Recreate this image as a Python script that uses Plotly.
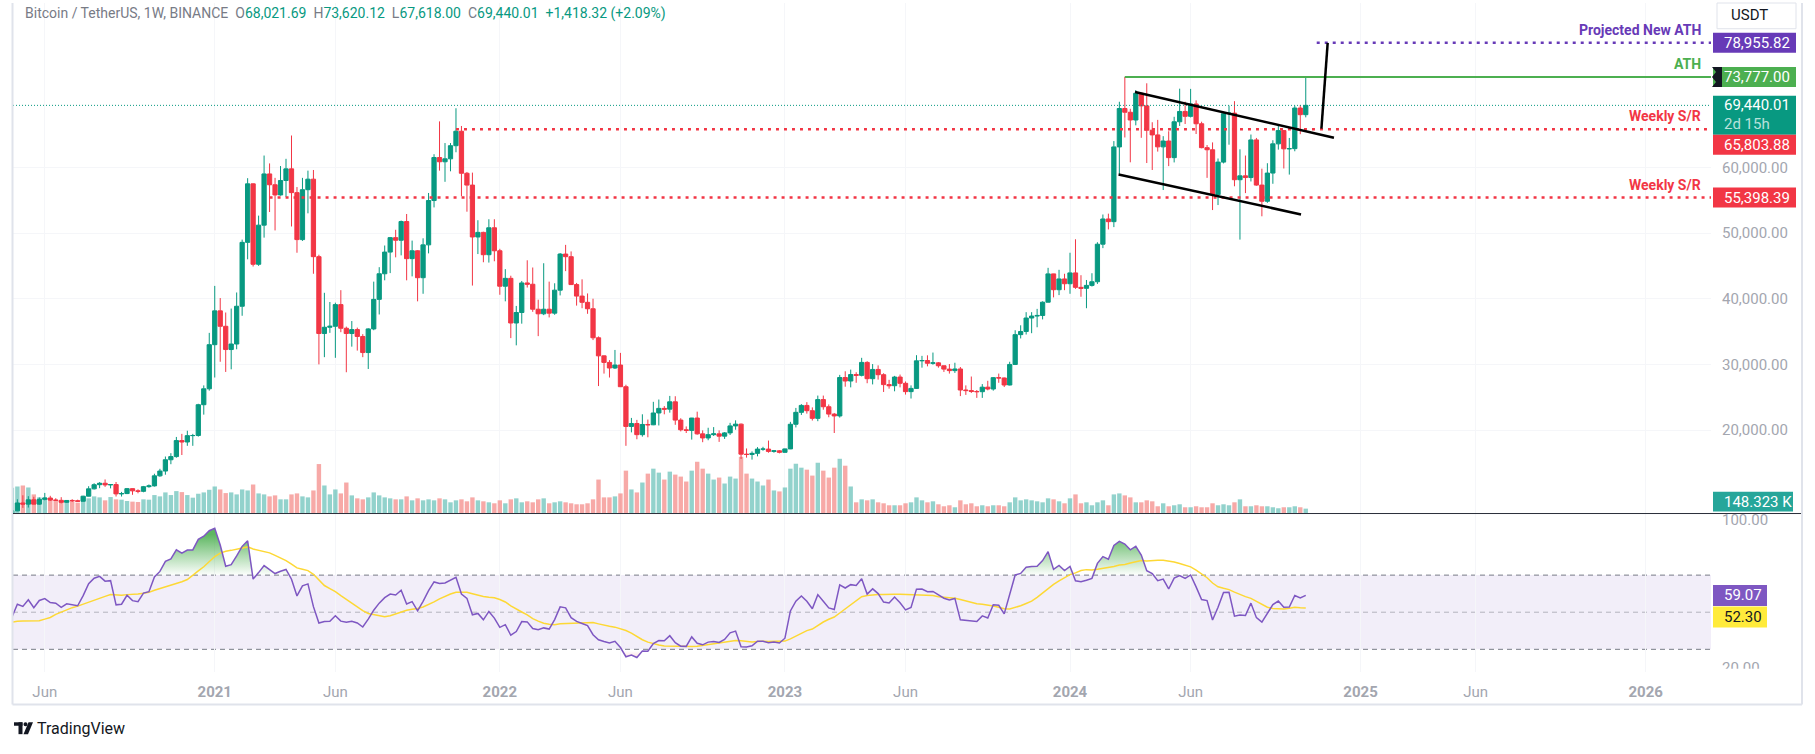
import numpy as np
import pandas as pd
import plotly.graph_objects as go

# ---------------------------------------------------------------- data
first_week = "2020-04-20"          # weekly bars (Monday open)
first_open = 7120.0

closes_2020 = [7700, 8900, 8720, 9380, 8720, 9450, 9650, 9340, 9300, 9000, 9280, 9230, 9160, 9930, 11050,
               11680, 11900, 11650, 11700, 10280, 10330, 11080, 10740, 10670, 11380, 11500, 13030, 13760,
               15480, 15960, 18400, 18180, 19150, 19170, 23860, 26280, 33000]
highs_2020 = [7770, 9460, 10070, 9930, 9840, 9740, 10430, 9990, 9620, 9780, 9320, 9470, 9400, 9990, 11450,
              11900, 12080, 12480, 11750, 12090, 10580, 11180, 11100, 10980, 11490, 11720, 13350, 14100,
              15970, 16480, 18950, 19420, 19900, 19420, 24000, 26800, 34800]
lows_2020 = [6750, 7640, 8150, 8200, 8700, 8630, 9300, 9200, 9210, 8830, 8900, 9050, 9060, 9150, 9900,
             10950, 11150, 11350, 11120, 9880, 9880, 10250, 10140, 10370, 10530, 11220, 11400, 12890,
             13200, 14800, 15790, 16200, 17600, 17600, 19000, 22350, 26000]
volumes_2020 = [780, 820, 850, 790, 580, 490, 490, 460, 380, 380, 340, 360, 330, 490, 460, 520, 490, 400,
                500, 430, 420, 380, 360, 350, 430, 420, 560, 520, 640, 560, 680, 650, 560, 480, 600, 640, 720]

closes_2021 = [38150, 35800, 32260, 33100, 38850, 48580, 57490, 45240, 51200, 59000,
               57350, 55800, 58000, 59770, 56150, 49000, 56600, 58200, 46400, 34700,
               35650, 35800, 39100, 35500, 34700, 35300, 34250, 31800, 35400, 39900,
               43800, 47100, 49300, 48900, 51750, 46100, 47300, 43200, 48200, 54950,
               61500, 60850, 61300, 63300, 65500, 59100, 57300, 49400, 50100, 46700,
               50800, 47300]
highs_2021 = [41950, 40100, 37900, 38500, 40950, 49000, 58350, 57550, 52650, 61800,
              60600, 58400, 60200, 61300, 64850, 57000, 58400, 59500, 59600, 46700,
              40900, 39500, 39400, 41300, 35750, 36600, 35600, 34600, 35500, 42600,
              44800, 48100, 49400, 50500, 51900, 52900, 48850, 47400, 49200, 56100,
              62000, 67000, 63700, 63700, 69000, 66300, 59300, 59200, 51950, 50200,
              52100, 52100]
lows_2021 = [28000, 30400, 28850, 29250, 32300, 37400, 46000, 44900, 45000, 49300,
             53200, 50400, 55700, 55500, 51000, 47000, 48800, 53000, 43800, 30000,
             31100, 34800, 31000, 34900, 28800, 32700, 32100, 31100, 29300, 35200,
             37600, 42800, 43900, 46300, 46600, 42800, 43400, 39600, 40750, 46900,
             53900, 59500, 57800, 59400, 62300, 55600, 53250, 42000, 46800, 45550,
             45500, 45700]
volumes_2021 = [820, 730, 620, 640, 580, 730, 700, 880, 610, 580,
                520, 550, 430, 430, 580, 610, 520, 490, 700, 1500,
                850, 580, 730, 610, 940, 550, 460, 430, 490, 640,
                550, 490, 460, 430, 430, 520, 400, 460, 400, 430,
                400, 460, 430, 340, 400, 430, 370, 490, 400, 370,
                340, 310]

closes_2022 = [41900, 43100, 36300, 37900, 42400, 42200, 38400, 37700, 38400, 37800,
               41300, 46800, 46400, 42150, 40400, 39450, 38470, 34050, 31300, 30300,
               29450, 29900, 26600, 20550, 21000, 19300, 20850, 20800, 22600, 23300,
               23180, 24300, 21520, 20040, 19950, 21830, 19420, 18800, 19300, 19420,
               19070, 19570, 20630, 20900, 16330, 16280, 16450, 17100, 17100, 16750,
               16840, 16610]
highs_2022 = [47600, 44500, 43500, 38900, 42700, 45850, 44750, 39850, 45400, 42600,
              42350, 46950, 48200, 47200, 42400, 42950, 40800, 40000, 34250, 31350,
              30650, 32200, 31750, 26900, 21850, 21550, 22400, 21600, 24300, 24650,
              23650, 25200, 25150, 21800, 20550, 21850, 22800, 19950, 20350, 20450,
              19950, 19700, 21100, 21480, 21000, 17200, 16750, 17400, 17450, 18400,
              16950, 16950]
lows_2022 = [40600, 39600, 34000, 32900, 36200, 41700, 38000, 34300, 37500, 37150,
             37550, 40500, 44200, 42100, 38950, 38550, 37700, 33700, 26700, 28600,
             28000, 29300, 26550, 17600, 19650, 18600, 19000, 18900, 20750, 20700,
             22400, 22650, 20800, 19800, 19550, 18550, 19300, 18150, 18450, 19100,
             18200, 18650, 19250, 20050, 15600, 15800, 15500, 16000, 16850, 16550,
             16550, 16450]
volumes_2022 = [400, 310, 430, 460, 340, 370, 340, 430, 460, 310,
                340, 370, 340, 310, 280, 280, 310, 430, 1030, 490,
                490, 520, 610, 1300, 730, 640, 940, 1210, 1360, 1240,
                1030, 1270, 1180, 1120, 970, 1300, 1570, 1360, 1210, 1030,
                1090, 910, 1120, 1060, 1720, 1210, 1060, 970, 850, 1030,
                700, 670]

closes_2023 = [17130, 20880, 22700, 23750, 22950, 21780, 24640, 23550, 22430, 22150,
               28000, 27470, 28450, 28330, 30300, 27820, 29230, 28430, 26920, 26750,
               28070, 27120, 25850, 26340, 30540, 30590, 30170, 30230, 29790, 29280,
               29050, 29300, 26100, 26010, 25870, 25840, 26530, 26250, 27980, 27930,
               26860, 29990, 34530, 35010, 37060, 37360, 37450, 39470, 43780, 41370,
               43010, 42280]
highs_2023 = [17180, 21250, 23370, 23950, 24250, 23450, 25250, 25250, 23900, 22600,
              28400, 28950, 29200, 28800, 31000, 30480, 30050, 29850, 28650, 27650,
              28250, 28450, 27400, 26800, 31400, 31300, 31380, 31800, 30350, 29800,
              30050, 30250, 29600, 26800, 28150, 26100, 27000, 27500, 28050, 28600,
              28000, 30400, 35200, 35950, 37950, 37950, 38450, 39600, 44700, 43800,
              44400, 43800]
lows_2023 = [16550, 17100, 20400, 22300, 22500, 21450, 21350, 23100, 21950, 19550,
             21900, 26600, 26500, 27200, 28170, 27130, 26950, 27680, 25800, 26300,
             25900, 26500, 25400, 24800, 26250, 29500, 29700, 29950, 29500, 28850,
             28600, 28700, 25170, 25350, 25650, 24900, 24900, 26050, 26000, 27200,
             26550, 26800, 29900, 33950, 34550, 34750, 35650, 36850, 39450, 40200,
             40550, 41300]
volumes_2023 = [790, 1360, 1510, 1390, 1330, 1150, 1540, 1300, 1090, 1390,
                1660, 1450, 820, 340, 430, 400, 430, 340, 310, 250,
                250, 250, 310, 340, 490, 400, 340, 370, 280, 220,
                250, 190, 400, 280, 310, 220, 250, 220, 250, 250,
                220, 340, 490, 400, 430, 400, 370, 340, 460, 430,
                370, 310]

closes_2024 = [43930, 41730, 41580, 42030, 42580, 48300, 52140, 51730, 63110, 68960,
               68390, 67210, 71280, 69360, 65660, 64940, 63120, 64010, 61480, 66940,
               68510, 67770, 69650, 66640, 63000, 62680, 55860, 60800, 68170, 68260,
               58120, 58710, 58450, 64180, 57300, 54840, 59130, 63580, 65600, 62820,
               62850, 69030, 68021.69, 69440.01]
highs_2024 = [47000, 49050, 43580, 42850, 43880, 48600, 52820, 52950, 64000, 69990,
              73777, 68920, 71770, 71350, 72800, 66870, 67230, 64750, 65500, 67700,
              71980, 70000, 71950, 70200, 66950, 63400, 63800, 61350, 68350, 69400,
              70080, 62750, 61800, 65000, 64480, 59800, 60630, 64130, 66500, 65650,
              64480, 69400, 69500, 73620.12]
lows_2024 = [40750, 41500, 40300, 38550, 41850, 42250, 47700, 50550, 50900, 59000,
             64550, 60770, 66400, 64500, 60660, 59600, 62400, 56550, 60190, 60750,
             66300, 66600, 67600, 65080, 62900, 58400, 53500, 54260, 60600, 63450,
             57120, 49000, 56080, 57850, 57200, 52550, 54600, 57500, 62700, 59830,
             58900, 62450, 65050, 67618.00]
volumes_2024 = [460, 580, 310, 340, 250, 340, 400, 250, 580, 610,
                550, 490, 340, 340, 400, 370, 220, 310, 220, 250,
                280, 190, 190, 220, 190, 190, 310, 250, 280, 250,
                340, 430, 220, 220, 250, 220, 220, 190, 160, 190,
                190, 220, 190, 148.323]

# weekly closes before the visible window (only used to warm up the RSI)
warmup_closes = [11470, 10200, 10530, 9480, 10800, 11350, 10230, 10140, 9600, 10400, 10300, 10000,
                 8050, 7900, 8270, 7960, 9550, 9250, 9050, 8500, 6900, 7400, 7520, 7100, 7500, 7380,
                 7760, 8180, 8900, 8600, 9380, 10150, 9900, 9700, 8540, 8030, 5360, 5820, 5880, 6780,
                 6900, 7120]

# drawings / levels
level_proj_ath = 78955.82
level_ath = 73777.00
level_sr_high = 65803.88
level_sr_low = 55398.39
rsi_label_value = 59.07
rsi_ma_label_value = 52.30
volume_label_text = "148.323 K"
countdown_text = "2d 15h"

upper_channel = [("2024-03-24", 71470), ("2024-12-03", 64500)]
lower_channel = [("2024-03-03", 58920), ("2024-10-22", 52830)]
projection_leg = [("2024-11-17", 65900), ("2024-11-25", level_proj_ath)]
line_starts = {"ath": "2024-03-11", "proj": "2024-11-11", "sr_high": "2021-11-08", "sr_low": "2021-03-15"}

x_tick_dates = ["2020-06-01", "2021-01-04", "2021-06-07", "2022-01-03", "2022-06-06", "2023-01-02",
                "2023-06-05", "2024-01-01", "2024-06-03", "2025-01-06", "2025-06-02", "2026-01-05"]
x_tick_text = ["Jun", "<b>2021</b>", "Jun", "<b>2022</b>", "Jun", "<b>2023</b>", "Jun", "<b>2024</b>",
               "Jun", "<b>2025</b>", "Jun", "<b>2026</b>"]
price_ticks = [20000, 30000, 40000, 50000, 60000]   # 10k/70k/80k sit under the value labels
rsi_ticks = [20, 100]

# ---------------------------------------------------------------- series assembly
closes = closes_2020 + closes_2021 + closes_2022 + closes_2023 + closes_2024
highs = highs_2020 + highs_2021 + highs_2022 + highs_2023 + highs_2024
lows = lows_2020 + lows_2021 + lows_2022 + lows_2023 + lows_2024
volumes_k = volumes_2020 + volumes_2021 + volumes_2022 + volumes_2023 + volumes_2024
n = len(closes)
dates = pd.date_range(first_week, periods=n, freq="7D")
opens = [first_open] + closes[:-1]          # weekly bar opens at previous close


def wilder_rsi(values, length=14):
    v = np.asarray(values, dtype=float)
    d = np.diff(v)
    up = np.where(d > 0, d, 0.0)
    dn = np.where(d < 0, -d, 0.0)
    out = np.full(v.size, np.nan)
    au, ad = up[:length].mean(), dn[:length].mean()
    out[length] = 100 - 100 / (1 + au / ad)
    for i in range(length, d.size):
        au = (au * (length - 1) + up[i]) / length
        ad = (ad * (length - 1) + dn[i]) / length
        out[i + 1] = 100.0 if ad == 0 else 100 - 100 / (1 + au / ad)
    return out


all_c = warmup_closes + closes
rsi_all = wilder_rsi(all_c, 14)
rsi_ma_all = pd.Series(rsi_all).rolling(14).mean().to_numpy()
k = len(warmup_closes)
rsi = rsi_all[k:]
rsi_ma = rsi_ma_all[k:]

# ---------------------------------------------------------------- geometry
W, H = 1815, 754
def fx(p): return p / W
def fy(p): return 1 - p / H

PLOT_L, PLOT_R, AXIS_R = 13, 1711, 1802
SPLIT, RSI_BOTTOM, FRAME_BOTTOM = 516, 676, 709
x_range = ["2020-04-21 10:00", "2026-03-29 10:00"]
price_range = [7291, 85026]
rsi_range = [17.87, 103.2]
vol_range = [0, 516 * 30]

GREEN, RED = "#089981", "#f23645"
PURPLE, ATH_GREEN = "#673ab7", "#4caf50"
TICK = "#a3a6af"
FONT = "Roboto, Arial, sans-serif"

# ---------------------------------------------------------------- traces
fig = go.Figure()
vol_colors = ["rgba(38,166,154,0.5)" if c >= o else "rgba(239,83,80,0.5)" for o, c in zip(opens, closes)]
fig.add_trace(go.Bar(x=dates, y=volumes_k, marker=dict(color=vol_colors, line=dict(width=0)),
                     xaxis="x", yaxis="y", hoverinfo="skip"))
fig.add_trace(go.Candlestick(x=dates, open=opens, high=highs, low=lows, close=closes,
                             increasing=dict(line=dict(color=GREEN, width=1), fillcolor=GREEN),
                             decreasing=dict(line=dict(color=RED, width=1), fillcolor=RED),
                             whiskerwidth=0, xaxis="x", yaxis="y2", hoverinfo="skip"))

# RSI overbought / oversold gradient fills
ob_base = np.full(n, 70.0)
os_base = np.full(n, 30.0)
fig.add_trace(go.Scatter(x=dates, y=ob_base, mode="lines", line=dict(width=0), xaxis="x", yaxis="y3",
                         hoverinfo="skip"))
fig.add_trace(go.Scatter(x=dates, y=np.maximum(rsi, 70), mode="lines", line=dict(width=0), fill="tonexty",
                         fillgradient=dict(type="vertical", start=70, stop=92,
                                           colorscale=[[0, "rgba(76,175,80,0)"], [1, "rgba(76,175,80,0.9)"]]),
                         xaxis="x", yaxis="y3", hoverinfo="skip"))
fig.add_trace(go.Scatter(x=dates, y=os_base, mode="lines", line=dict(width=0), xaxis="x", yaxis="y3",
                         hoverinfo="skip"))
fig.add_trace(go.Scatter(x=dates, y=np.minimum(rsi, 30), mode="lines", line=dict(width=0), fill="tonexty",
                         fillgradient=dict(type="vertical", start=12, stop=30,
                                           colorscale=[[0, "rgba(242,54,69,0.8)"], [1, "rgba(242,54,69,0)"]]),
                         xaxis="x", yaxis="y3", hoverinfo="skip"))
fig.add_trace(go.Scatter(x=dates, y=rsi_ma, mode="lines", line=dict(color="#fdd835", width=1.5),
                         xaxis="x", yaxis="y3", hoverinfo="skip"))
fig.add_trace(go.Scatter(x=dates, y=rsi, mode="lines", line=dict(color="#7e57c2", width=1.5),
                         xaxis="x", yaxis="y3", hoverinfo="skip"))

# ---------------------------------------------------------------- shapes
shapes = []


def pline(x0, y0, x1, y1, color, width):
    return dict(type="line", xref="paper", yref="paper", x0=fx(x0), y0=fy(y0), x1=fx(x1), y1=fy(y1),
                line=dict(color=color, width=width), layer="above")


# RSI band and levels
shapes.append(dict(type="rect", xref="x", yref="y3", x0=x_range[0], x1=x_range[1], y0=30, y1=70,
                   fillcolor="rgba(126,87,194,0.1)", line=dict(width=0), layer="below"))
for lvl, col in [(70, "#787b86"), (50, "rgba(120,123,134,0.5)"), (30, "#787b86")]:
    shapes.append(dict(type="line", xref="x", yref="y3", x0=x_range[0], x1=x_range[1], y0=lvl, y1=lvl,
                       line=dict(color=col, width=1, dash="5px,4px"), layer="below"))

# horizontal levels
shapes.append(dict(type="line", xref="x", yref="y2", x0=x_range[0], x1=x_range[1], y0=closes[-1], y1=closes[-1],
                   line=dict(color=GREEN, width=1, dash="1px,2px"), layer="above"))
shapes.append(dict(type="line", xref="x", yref="y2", x0=line_starts["sr_high"], x1=x_range[1],
                   y0=level_sr_high, y1=level_sr_high, line=dict(color=RED, width=2.5, dash="3px,5px"),
                   layer="above"))
shapes.append(dict(type="line", xref="x", yref="y2", x0=line_starts["sr_low"], x1=x_range[1],
                   y0=level_sr_low, y1=level_sr_low, line=dict(color=RED, width=2.5, dash="3px,5px"),
                   layer="above"))
shapes.append(dict(type="line", xref="x", yref="y2", x0=line_starts["ath"], x1=x_range[1],
                   y0=level_ath, y1=level_ath, line=dict(color=ATH_GREEN, width=2), layer="above"))
shapes.append(dict(type="line", xref="x", yref="y2", x0=line_starts["proj"], x1=x_range[1],
                   y0=level_proj_ath, y1=level_proj_ath, line=dict(color=PURPLE, width=2.5, dash="3px,5px"),
                   layer="above"))
for seg in (upper_channel, lower_channel, projection_leg):
    shapes.append(dict(type="line", xref="x", yref="y2", x0=seg[0][0], y0=seg[0][1], x1=seg[1][0],
                       y1=seg[1][1], line=dict(color="black", width=2.5), layer="above"))

# frame / separators
shapes.append(pline(12.5, 0, 12.5, FRAME_BOTTOM, "#e0e3eb", 2))
shapes.append(pline(AXIS_R, 0, AXIS_R, FRAME_BOTTOM, "#e0e3eb", 2))
shapes.append(pline(12.5, FRAME_BOTTOM, AXIS_R, FRAME_BOTTOM, "#e0e3eb", 2))
shapes.append(pline(PLOT_L, SPLIT, AXIS_R - 1, SPLIT, "#2a2e39", 1))
# the rsi scale is clipped by the time axis
shapes.append(dict(type="rect", xref="paper", yref="paper", x0=fx(1713), x1=fx(1800), y0=fy(706), y1=fy(673),
                   fillcolor="white", line=dict(width=0), layer="above"))


def axis_box(value, yref, color, top, bottom, x0=1713, x1=1796):
    return dict(type="rect", xref="paper", x0=fx(x0), x1=fx(x1), yref=yref, ysizemode="pixel",
                yanchor=value, y0=bottom, y1=top, fillcolor=color, line=dict(width=0), layer="above")


shapes.append(axis_box(level_proj_ath, "y2", PURPLE, 10, -10))
shapes.append(axis_box(level_ath, "y2", ATH_GREEN, 10, -10))
shapes.append(axis_box(closes[-1], "y2", GREEN, 9.5, -29.5))
shapes.append(axis_box(level_sr_high, "y2", RED, -5.4, -25.4))
shapes.append(axis_box(level_sr_low, "y2", RED, 10, -10))
shapes.append(axis_box(rsi_label_value, "y3", "#7e57c2", 10.5, -10.5, x1=1767))
shapes.append(axis_box(rsi_ma_label_value, "y3", "#ffeb3b", 1.5, -19.5, x1=1767))
shapes.append(dict(type="rect", xref="paper", yref="paper", x0=fx(1713), x1=fx(1793), y0=fy(514), y1=fy(494),
                   fillcolor="#26a69a", line=dict(width=0), layer="above"))
# black drawing marker on ATH label
shapes.append(dict(type="path", xref="paper", yref="y2", xsizemode="pixel", ysizemode="pixel",
                   xanchor=fx(1712), yanchor=level_ath,
                   path="M0,10 L10,10 L10,-10 L0,-10 L4,-5 L0,0 L4,5 Z",
                   fillcolor="#131722", line=dict(width=0), layer="above"))
# USDT box
shapes.append(dict(type="rect", xref="paper", yref="paper", x0=fx(1717), x1=fx(1796), y0=fy(26), y1=fy(0),
                   fillcolor="white", line=dict(color="#e0e3eb", width=1), layer="above"))
# TradingView logo mark
shapes.append(dict(type="rect", xref="paper", yref="paper", x0=fx(14), x1=fx(22.5), y0=fy(730.5), y1=fy(727),
                   fillcolor="#131722", line=dict(width=0)))
shapes.append(dict(type="rect", xref="paper", yref="paper", x0=fx(18.5), x1=fx(22.5), y0=fy(739), y1=fy(727),
                   fillcolor="#131722", line=dict(width=0)))
shapes.append(dict(type="circle", xref="paper", yref="paper", x0=fx(23.5), x1=fx(27.5), y0=fy(731), y1=fy(727),
                   fillcolor="#131722", line=dict(width=0)))
shapes.append(dict(type="path", xref="paper", yref="paper",
                   path=f"M{fx(28.5)},{fy(727)} L{fx(33)},{fy(727)} L{fx(28)},{fy(739)} L{fx(23.5)},{fy(739)} Z",
                   fillcolor="#131722", line=dict(width=0)))

# ---------------------------------------------------------------- annotations
ann = []


def axis_text(text, value, yref, color, yshift=0, x=1722, size=15):
    return dict(xref="paper", x=fx(x), xanchor="left", yref=yref, y=value, yanchor="middle", yshift=yshift,
                text=text, showarrow=False, font=dict(color=color, size=size, family=FONT))


ann.append(axis_text(f"{level_proj_ath:,.2f}", level_proj_ath, "y2", "white"))
ann.append(axis_text(f"{level_ath:,.2f}", level_ath, "y2", "white"))
ann.append(axis_text(f"{closes[-1]:,.2f}", closes[-1], "y2", "white"))
ann.append(axis_text(countdown_text, closes[-1], "y2", "rgba(255,255,255,0.72)", yshift=-19))
ann.append(axis_text(f"{level_sr_high:,.2f}", level_sr_high, "y2", "white", yshift=-15.4))
ann.append(axis_text(f"{level_sr_low:,.2f}", level_sr_low, "y2", "white"))
ann.append(axis_text(f"{rsi_label_value:.2f}", rsi_label_value, "y3", "white"))
ann.append(axis_text(f"{rsi_ma_label_value:.2f}", rsi_ma_label_value, "y3", "#131722", yshift=-9))
ann.append(dict(xref="paper", yref="paper", x=fx(1722), y=fy(504), xanchor="left", yanchor="middle",
                text=volume_label_text, showarrow=False, font=dict(color="white", size=15, family=FONT)))
ann.append(dict(xref="paper", yref="paper", x=fx(1729), y=fy(12.5), xanchor="left", yanchor="middle",
                text="USDT", showarrow=False, font=dict(color="#131722", size=15, family=FONT)))


def level_text(text, value, color):
    return dict(xref="paper", x=fx(1703), xanchor="right", yref="y2", y=value, yanchor="middle", yshift=13,
                text=f"<b>{text}</b>", showarrow=False, font=dict(color=color, size=14, family=FONT))


ann.append(level_text("Projected New ATH", level_proj_ath, PURPLE))
ann.append(level_text("ATH", level_ath, ATH_GREEN))
ann.append(level_text("Weekly S/R", level_sr_high, RED))
ann.append(level_text("Weekly S/R", level_sr_low, RED))

o, h, l, c = opens[-1], highs[-1], lows[-1], closes[-1]
chg = c - o
sp = "\u00a0"
title = (f'<span style="color:#787b86">Bitcoin / TetherUS, 1W, BINANCE</span>{sp*2}'
         f'<span style="color:#787b86">O</span><span style="color:{GREEN}">{o:,.2f}</span>{sp*2}'
         f'<span style="color:#787b86">H</span><span style="color:{GREEN}">{h:,.2f}</span>{sp*2}'
         f'<span style="color:#787b86">L</span><span style="color:{GREEN}">{l:,.2f}</span>{sp*2}'
         f'<span style="color:#787b86">C</span><span style="color:{GREEN}">{c:,.2f}</span>{sp*2}'
         f'<span style="color:{GREEN}">+{chg:,.2f} (+{chg / o * 100:.2f}%)</span>')
ann.append(dict(xref="paper", yref="paper", x=fx(23), y=fy(10.5), xanchor="left", yanchor="middle",
                text=title, showarrow=False, font=dict(size=14, family=FONT, color="#787b86")))
ann.append(dict(xref="paper", yref="paper", x=fx(35), y=fy(733), xanchor="left", yanchor="middle",
                text="TradingView", showarrow=False, font=dict(size=16, family=FONT, color="#131722")))

# ---------------------------------------------------------------- layout
fig.update_layout(
    width=W, height=H, autosize=False, margin=dict(l=0, r=0, t=0, b=0),
    paper_bgcolor="white", plot_bgcolor="white", showlegend=False, hovermode=False,
    font=dict(family=FONT, size=15, color="#131722"),
    bargap=0.2, boxgap=0.12, boxgroupgap=0.12,
    xaxis=dict(domain=[fx(PLOT_L), fx(PLOT_R)], range=x_range, type="date", anchor="y3",
               tickmode="array", tickvals=x_tick_dates, ticktext=x_tick_text,
               showgrid=True, gridcolor="#f5f6f9", zeroline=False, showline=False, ticks="",
               ticklabelstandoff=9, tickfont=dict(size=15, color=TICK, family=FONT),
               rangeslider=dict(visible=False), fixedrange=True),
    yaxis=dict(domain=[fy(SPLIT), fy(0)], range=vol_range, visible=False, fixedrange=True),
    yaxis2=dict(overlaying="y", side="right", anchor="x", range=price_range, tickmode="array",
                tickvals=price_ticks, tickformat=",.2f", showgrid=True, gridcolor="#f5f6f9",
                zeroline=False, showline=False, ticks="", ticklabelstandoff=10,
                tickfont=dict(size=15, color=TICK, family=FONT), fixedrange=True),
    yaxis3=dict(domain=[fy(RSI_BOTTOM), fy(SPLIT)], side="right", anchor="x", range=rsi_range,
                tickmode="array", tickvals=rsi_ticks, tickformat=".2f", showgrid=False, zeroline=False,
                showline=False, ticks="", ticklabelstandoff=10,
                tickfont=dict(size=15, color=TICK, family=FONT), fixedrange=True),
    shapes=shapes, annotations=ann,
)

fig.write_html("out.html", config={"displayModeBar": False, "staticPlot": True})
